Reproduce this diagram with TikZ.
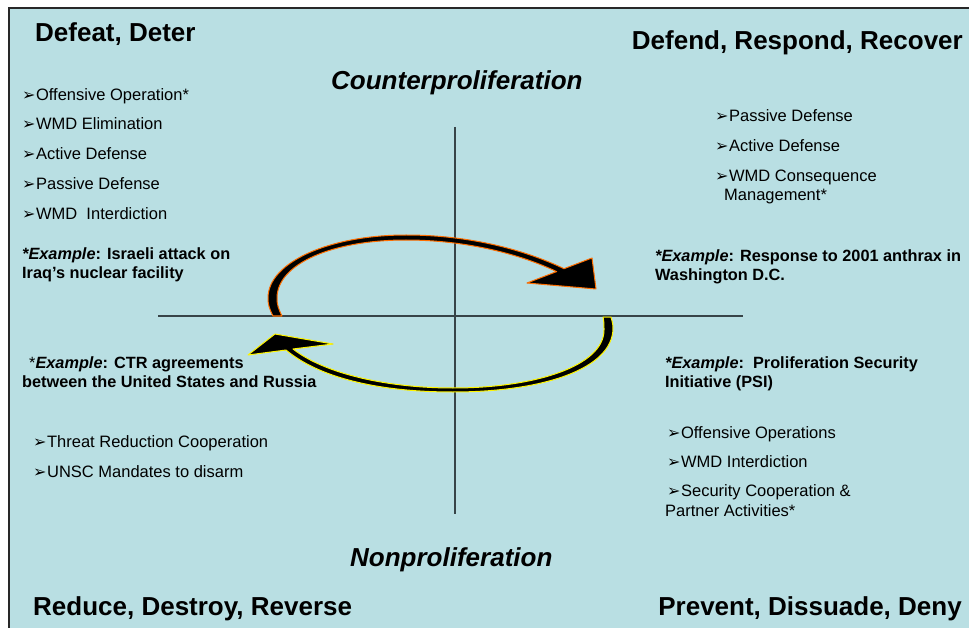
\documentclass[tikz,border=0pt]{standalone}
\usepackage{fontspec}
\setmainfont{Liberation Sans}
\newfontfamily\symfont{DejaVu Sans}
\usepackage{tikz}
\usetikzlibrary{positioning}
\definecolor{slidebg}{RGB}{185,223,227}
\definecolor{framegray}{RGB}{40,40,40}
\definecolor{axisgray}{RGB}{55,68,72}
\definecolor{arroworange}{RGB}{255,110,0}
\definecolor{arrowyellow}{RGB}{255,245,0}
\newcommand{\bul}{{\symfont\fontsize{16}{16}\selectfont ➢}\hspace{0.5pt}}
\tikzset{
  quadtitle/.style={inner sep=0pt, font=\fontsize{26}{30}\selectfont\bfseries},
  regime/.style={inner sep=0pt, anchor=base west, font=\fontsize{26}{30}\selectfont\bfseries\itshape},
  bullettxt/.style={inner sep=0pt, anchor=base west, align=left, font=\fontsize{16.5}{19.5}\selectfont},
  exampletxt/.style={inner sep=0pt, anchor=base west, align=left, font=\fontsize{16.3}{19}\selectfont\bfseries},
  axisline/.style={draw=axisgray, line width=1.3pt},
  cwarrow/.style={fill=black, draw=arroworange, line width=1pt, line join=round},
  ccwarrow/.style={fill=black, draw=arrowyellow, line width=1pt, line join=round}
}

\begin{document}
\begin{tikzpicture}[x=1pt,y=-1pt]
\useasboundingbox (0,0) rectangle (969,628);

% Slide background
\fill[slidebg] (9,8) rectangle (969,628);
\draw[framegray, line width=1.5pt] (9,628) -- (9,8) -- (969,8);

% Axes
\coordinate (hl) at (158,316);
\coordinate (hr) at (743,316);
\coordinate (vt) at (455,127);
\coordinate (vb) at (455,514);
\draw[axisline] (hl) -- (hr);
\draw[axisline] (vt) -- (vb);

% Upper arrow (left to right)
\path[cwarrow] (273,316) .. controls (269,308) and (268,304) .. (268,298)
  .. controls (268,262) and (330,235) .. (406,235)
  .. controls (470,235) and (525,250) .. (564,268.7)
  -- (592,258) -- (596,289) -- (527,283) -- (556.6,271.6)
  .. controls (522,255) and (468,240) .. (406,240)
  .. controls (332,240) and (277,264) .. (277,298)
  .. controls (277,304) and (278,308) .. (282,316) -- cycle;

% Lower arrow (right to left)
\path[ccwarrow] (611,317) .. controls (612,321) and (613,324) .. (613,328)
  .. controls (613,370) and (540,392) .. (453,392)
  .. controls (385,392) and (322,380) .. (286,350)
  -- (248,355) -- (275,334) -- (333,344) -- (293,349)
  .. controls (325,374) and (388,388) .. (453,388)
  .. controls (535,388) and (604,366) .. (604,330)
  .. controls (604,325) and (604,321) .. (603,317) -- cycle;

% Quadrant titles
\node[quadtitle, anchor=base west] (deter) at (35,42) {Defeat, Deter};
\node[quadtitle, anchor=base east] (recover) at (963,50) {Defend, Respond, Recover};
\node[quadtitle, anchor=base west] (reverse) at (33,615) {Reduce, Destroy, Reverse};
\node[quadtitle, anchor=base east] (deny) at (962,615) {Prevent, Dissuade, Deny};

\node[regime] (counter) at (331,90) {Counterproliferation};
\node[regime] (nonpro) at (350,566) {Nonproliferation};

% Upper left (two-line nodes sit on their last line)
\node[bullettxt] (ul1) at (22,101) {\bul Offensive Operation*};
\node[bullettxt] (ul2) at (22,130) {\bul WMD Elimination};
\node[bullettxt] (ul3) at (22,160) {\bul Active Defense};
\node[bullettxt] (ul4) at (22,190) {\bul Passive Defense};
\node[bullettxt] (ul5) at (22,220) {\bul WMD\ \ Interdiction};
\node[exampletxt] (ulex) at (22,279) {{\itshape *Example}: Israeli attack on\\Iraq’s nuclear facility};

% Upper right
\node[bullettxt] (ur1) at (715,122) {\bul Passive Defense};
\node[bullettxt] (ur2) at (715,152) {\bul Active Defense};
\node[bullettxt] (ur3) at (715,201) {\bul WMD Consequence\\\hspace*{9pt}Management*};
\node[exampletxt] (urex) at (655,280) {{\itshape *Example}: Response to 2001 anthrax in\\Washington D.C.};

% Lower left
\node[exampletxt] (llex) at (22,387) {\hspace*{7pt}{\mdseries *}{\itshape Example}: CTR agreements\\between the United States and Russia};
\node[bullettxt] (ll1) at (33,447) {\bul Threat Reduction Cooperation};
\node[bullettxt] (ll2) at (33,477) {\bul UNSC Mandates to disarm};

% Lower right
\node[exampletxt] (lrex) at (665,387) {{\itshape *Example}:\ \ Proliferation Security\\Initiative (PSI)};
\node[bullettxt] (lr1) at (667,438) {\bul Offensive Operations};
\node[bullettxt] (lr2) at (667,467) {\bul WMD Interdiction};
\node[bullettxt] (lr3) at (665,516) {\hspace*{2pt}\bul Security Cooperation \&\\Partner Activities*};

\end{tikzpicture}
\end{document}
